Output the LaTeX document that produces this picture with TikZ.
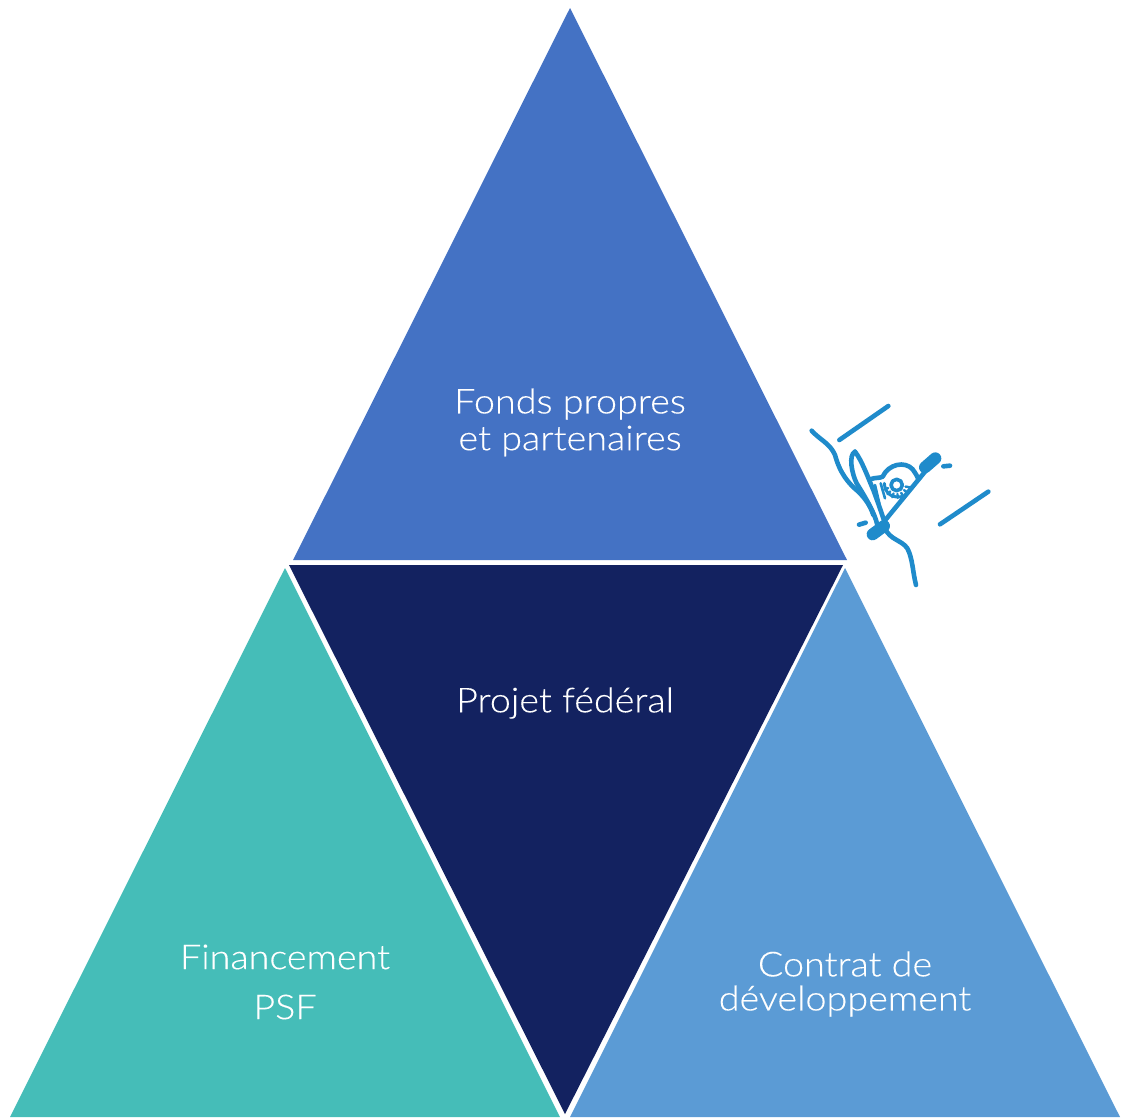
\documentclass[tikz,border=0pt]{standalone}
\usepackage{fontspec}
\setmainfont[FakeStretch=1.1,FakeBold=0.25]{Lato Light}
\definecolor{topblue}{HTML}{4472C4}
\definecolor{navy}{HTML}{132260}
\definecolor{teal}{HTML}{45BDB8}
\definecolor{sky}{HTML}{5B9BD5}
\definecolor{icon}{HTML}{1F8BCB}
\tikzset{
  label text/.style={text=white,font=\fontsize{34.3}{37}\selectfont,align=center,inner sep=0pt},
  icon line/.style={draw=icon,line width=4.6pt,line cap=round,line join=round}
}
\begin{document}
\begin{tikzpicture}[x=1pt,y=-1pt]
\useasboundingbox (0,0) rectangle (1122,1117);
\fill[white] (0,0) rectangle (1122,1117);
\fill[topblue] (570,8) -- (847,560) -- (293,560) -- cycle;
\fill[navy] (289,565) -- (843,565) -- (565,1114) -- cycle;
\fill[teal] (285,568) -- (560,1117) -- (10,1117) -- cycle;
\fill[sky] (845,568) -- (1120,1117) -- (570,1117) -- cycle;
\node[label text] (fonds1) at (570,404) {Fonds propres};
\node[label text] (fonds2) at (570,441) {et partenaires};
\node[label text] (projet) at (565,703) {Projet fédéral};
\node[label text] (fin) at (285,957) {Financement};
\node[label text] (psf) at (285,1007) {PSF};
\node[label text] (contrat) at (845,964) {Contrat de};
\node[label text] (dev) at (845,1001) {développement};
\begin{scope}[shift={(790,390)},x=0.3333pt,y=-0.3333pt]
  \draw[icon line] (148,150) -- (295,48);
  \draw[icon line] (450,403) -- (595,305);
  \draw[icon line] (65,122) .. controls (90,150) and (120,160) .. (135,195)
    .. controls (150,250) and (175,280) .. (205,305)
    .. controls (225,325) and (240,345) .. (250,375);
  \draw[icon line] (285,415) .. controls (300,450) and (335,450) .. (352,475)
    .. controls (368,505) and (368,545) .. (378,585);
  \draw[icon line] (195,185) .. controls (175,195) and (185,250) .. (200,280)
    .. controls (225,320) and (255,370) .. (262,405);
  \draw[icon line] (195,185) .. controls (215,210) and (235,265) .. (250,300)
    .. controls (265,340) and (275,370) .. (285,400);
  \draw[icon line] (255,428) -- (405,245);
  \draw[icon,line width=12pt,line cap=round] (405,232) -- (436,205);
  \draw[icon,line width=12pt,line cap=round] (248,433) -- (282,408);
  \draw[icon line] (240,268) .. controls (255,262) and (270,265) .. (278,260)
    .. controls (295,222) and (345,212) .. (368,238)
    .. controls (375,248) and (382,258) .. (385,268);
  \draw[icon line,line width=3.6pt] (320,285) circle[radius=17];
  \draw[icon line,line width=3pt] (283,280) .. controls (285,310) and (305,325) .. (335,320);
  \foreach \a in {60,85,110,135,160,35,10}
    \draw[icon line,line width=2.4pt] (320,285) ++(\a:27) -- ++(\a:12);
  \draw[icon line,line width=2.6pt] (255,285) -- (268,340);
  \draw[icon line,line width=2.6pt] (272,280) -- (285,325);
  \draw[icon line] (207,404) -- (227,398);
  \draw[icon line] (460,229) -- (480,227);
\end{scope}
\end{tikzpicture}
\end{document}
